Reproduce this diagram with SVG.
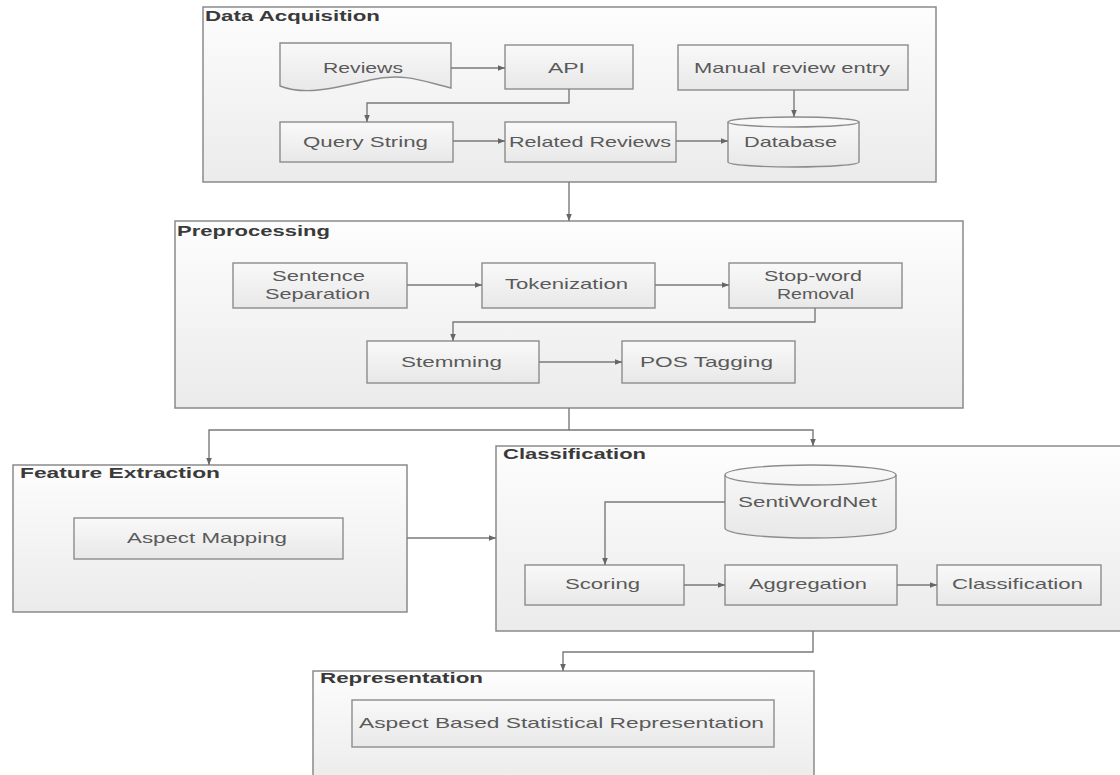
<svg xmlns="http://www.w3.org/2000/svg" width="1120" height="775" viewBox="0 0 1120 775">
<style>
.cont{fill:url(#gc);stroke:#8a8a8a;stroke-width:1.5}
.node{fill:url(#gn);stroke:#8c8c8c;stroke-width:1.4}
.title{font-family:"Liberation Sans",Arial,sans-serif;font-size:15px;font-weight:bold;fill:#3a3a3a}
.lbl{font-family:"Liberation Sans",Arial,sans-serif;font-size:15px;fill:#5a5a5a;text-anchor:middle}
.conn path{fill:none;stroke:#7a7a7a;stroke-width:1.4;marker-end:url(#ah)}
</style>
<defs>
<linearGradient id="gc" x1="0" y1="0" x2="0" y2="1"><stop offset="0" stop-color="#fdfdfd"/><stop offset="1" stop-color="#ebebeb"/></linearGradient>
<linearGradient id="gn" x1="0" y1="0" x2="0" y2="1"><stop offset="0" stop-color="#f9f9f9"/><stop offset="1" stop-color="#e8e8e8"/></linearGradient>
<marker id="ah" viewBox="0 0 10 10" refX="10" refY="5" markerWidth="7" markerHeight="7" markerUnits="userSpaceOnUse" orient="auto"><path d="M0,1 L10,5 L0,9 Z" fill="#666"/></marker>
</defs>
<rect width="1120" height="775" fill="#ffffff"/>

<g id="data-acquisition">
<rect class="cont" x="203" y="7" width="733" height="175"/>
<text class="title" x="205" y="21" textLength="175" lengthAdjust="spacingAndGlyphs">Data Acquisition</text>
</g>
<g id="preprocessing">
<rect class="cont" x="175" y="221" width="788" height="187"/>
<text class="title" x="177" y="236" textLength="153" lengthAdjust="spacingAndGlyphs">Preprocessing</text>
</g>
<g id="feature-extraction">
<rect class="cont" x="13" y="465" width="394" height="147"/>
<text class="title" x="20" y="478" textLength="200" lengthAdjust="spacingAndGlyphs">Feature Extraction</text>
</g>
<g id="classification-group">
<rect class="cont" x="496" y="446" width="640" height="185"/>
<text class="title" x="503" y="459" textLength="143" lengthAdjust="spacingAndGlyphs">Classification</text>
</g>
<g id="representation">
<rect class="cont" x="313" y="671" width="501" height="115"/>
<text class="title" x="320" y="683" textLength="163" lengthAdjust="spacingAndGlyphs">Representation</text>
</g>

<g id="reviews">
<path class="node" d="M280,43 H451 V88 C425,82 405,72 370,80 C335,88 305,96 280,86 Z"/>
<text class="lbl" x="363" y="73" textLength="80" lengthAdjust="spacingAndGlyphs">Reviews</text>
</g>
<g id="api">
<rect class="node" x="505" y="45" width="128" height="44"/>
<text class="lbl" x="566.5" y="73" textLength="37" lengthAdjust="spacingAndGlyphs">API</text>
</g>
<g id="manual-review-entry">
<rect class="node" x="678" y="45" width="230" height="45"/>
<text class="lbl" x="792" y="73" textLength="196" lengthAdjust="spacingAndGlyphs">Manual review entry</text>
</g>
<g id="query-string">
<rect class="node" x="280" y="122" width="173" height="40"/>
<text class="lbl" x="365.5" y="147" textLength="125" lengthAdjust="spacingAndGlyphs">Query String</text>
</g>
<g id="related-reviews">
<rect class="node" x="505" y="122" width="171" height="40"/>
<text class="lbl" x="590" y="147" textLength="162" lengthAdjust="spacingAndGlyphs">Related Reviews</text>
</g>
<g id="database">
<path class="node" d="M728,122 A65.5,5 0 0 1 859,122 V162 A65.5,5 0 0 1 728,162 Z"/>
<path d="M728,122 A65.5,5 0 0 0 859,122" fill="none" stroke="#8c8c8c" stroke-width="1.4"/>
<text class="lbl" x="790.5" y="147" textLength="93" lengthAdjust="spacingAndGlyphs">Database</text>
</g>

<g id="sentence-separation">
<rect class="node" x="233" y="263" width="174" height="45"/>
<text class="lbl" x="318.5" y="281" textLength="93" lengthAdjust="spacingAndGlyphs">Sentence</text>
<text class="lbl" x="317.5" y="299" textLength="105" lengthAdjust="spacingAndGlyphs">Separation</text>
</g>
<g id="tokenization">
<rect class="node" x="482" y="263" width="173" height="45"/>
<text class="lbl" x="566.5" y="289" textLength="123" lengthAdjust="spacingAndGlyphs">Tokenization</text>
</g>
<g id="stop-word-removal">
<rect class="node" x="729" y="263" width="173" height="45"/>
<text class="lbl" x="813" y="281" textLength="98" lengthAdjust="spacingAndGlyphs">Stop-word</text>
<text class="lbl" x="815.5" y="299" textLength="77" lengthAdjust="spacingAndGlyphs">Removal</text>
</g>
<g id="stemming">
<rect class="node" x="367" y="341" width="172" height="42"/>
<text class="lbl" x="451.5" y="367" textLength="101" lengthAdjust="spacingAndGlyphs">Stemming</text>
</g>
<g id="pos-tagging">
<rect class="node" x="622" y="341" width="173" height="42"/>
<text class="lbl" x="706.5" y="367" textLength="133" lengthAdjust="spacingAndGlyphs">POS Tagging</text>
</g>

<g id="aspect-mapping">
<rect class="node" x="74" y="518" width="269" height="41"/>
<text class="lbl" x="207" y="543" textLength="160" lengthAdjust="spacingAndGlyphs">Aspect Mapping</text>
</g>

<g id="sentiwordnet">
<path class="node" d="M725,475 A85.5,10 0 0 1 896,475 V528 A85.5,10 0 0 1 725,528 Z"/>
<path d="M725,475 A85.5,10 0 0 0 896,475" fill="none" stroke="#8c8c8c" stroke-width="1.4"/>
<text class="lbl" x="807.5" y="507" textLength="139" lengthAdjust="spacingAndGlyphs">SentiWordNet</text>
</g>
<g id="scoring">
<rect class="node" x="525" y="565" width="159" height="40"/>
<text class="lbl" x="602.5" y="589" textLength="75" lengthAdjust="spacingAndGlyphs">Scoring</text>
</g>
<g id="aggregation">
<rect class="node" x="725" y="565" width="172" height="40"/>
<text class="lbl" x="808" y="589" textLength="118" lengthAdjust="spacingAndGlyphs">Aggregation</text>
</g>
<g id="classification">
<rect class="node" x="937" y="565" width="164" height="40"/>
<text class="lbl" x="1017.5" y="589" textLength="131" lengthAdjust="spacingAndGlyphs">Classification</text>
</g>

<g id="aspect-based-statistical-representation">
<rect class="node" x="352" y="700" width="422" height="47"/>
<text class="lbl" x="561.5" y="728" textLength="405" lengthAdjust="spacingAndGlyphs">Aspect Based Statistical Representation</text>
</g>

<g id="connectors" class="conn">
<path d="M451,68 H505"/>
<path d="M569,89 V103 H367 V122"/>
<path d="M453,141 H505"/>
<path d="M676,141 H728"/>
<path d="M794,90 V117"/>
<path d="M569,182 V221"/>
<path d="M407,285 H482"/>
<path d="M655,285 H729"/>
<path d="M815,308 V322 H453 V341"/>
<path d="M539,362 H622"/>
<path d="M569,408 V430 H209 V465"/>
<path d="M569,430 H813 V446"/>
<path d="M407,538 H496"/>
<path d="M725,502 H605 V565"/>
<path d="M684,585 H725"/>
<path d="M897,585 H937"/>
<path d="M813,631 V652 H563 V671"/>
</g>
</svg>
